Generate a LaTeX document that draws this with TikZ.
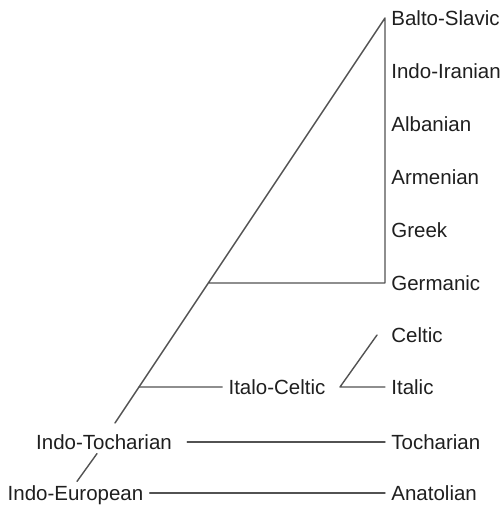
\documentclass[tikz,border=0pt]{standalone}
\usepackage{fontspec}
\setmainfont{Liberation Sans}
\usetikzlibrary{calc}
\begin{document}
\begin{tikzpicture}[x=0.5pt, y=-0.5pt, font=\fontsize{10.25}{12}\selectfont, line join=round, line cap=round,
	lang/.style={text=black!88, text height=0.72em, text depth=0pt, inner xsep=3pt, inner ysep=2pt},
	leaf/.style={lang, anchor=west},
	branch/.style={draw=black!68, line width=0.7pt}]
	\useasboundingbox (0,0) rectangle (504,505);
	\foreach \name/\txt [count=\i from 0] in {balto/Balto-Slavic, indoir/Indo-Iranian, alb/Albanian, arm/Armenian, grk/Greek, germ/Germanic}{
		\node[leaf] (\name) at (385,{18+53*\i}) {\txt};
	}
	\node[leaf] (celt) at (385,335) {Celtic};
	\node[leaf] (ital) at (385,387) {Italic};
	\node[leaf] (toch) at (385,442) {Tocharian};
	\node[leaf] (anat) at (385,493) {Anatolian};
	\node[lang] (itcelt) at (277,387) {Italo-Celtic};
	\node[lang] (itoch) at (104,442) {Indo-Tocharian};
	\node[lang] (ieur) at (75.5,493) {Indo-European};
	\coordinate (root) at (115,423);
	\coordinate (apex) at (385,18);
	\coordinate (gjoin) at ($(root)!0.3457!(apex)$);
	\coordinate (icjoin) at ($(root)!0.0889!(apex)$);
	\coordinate (fork) at (340,387);
	\draw[branch] (root) -- (apex) -- (germ.west) -- (gjoin);
	\draw[branch] (icjoin) -- (itcelt.west);
	\draw[branch] ([xshift=-4pt]celt.west) -- (fork) -- (ital.west);
	\draw[branch, shorten <=4.5pt] (itoch.east) -- (toch.west);
	\draw[branch] (ieur.east) -- (anat.west);
	\draw[branch] ([xshift=-3.5pt]itoch.south) -- ([xshift=0.75pt]ieur.north);
\end{tikzpicture}
\end{document}
